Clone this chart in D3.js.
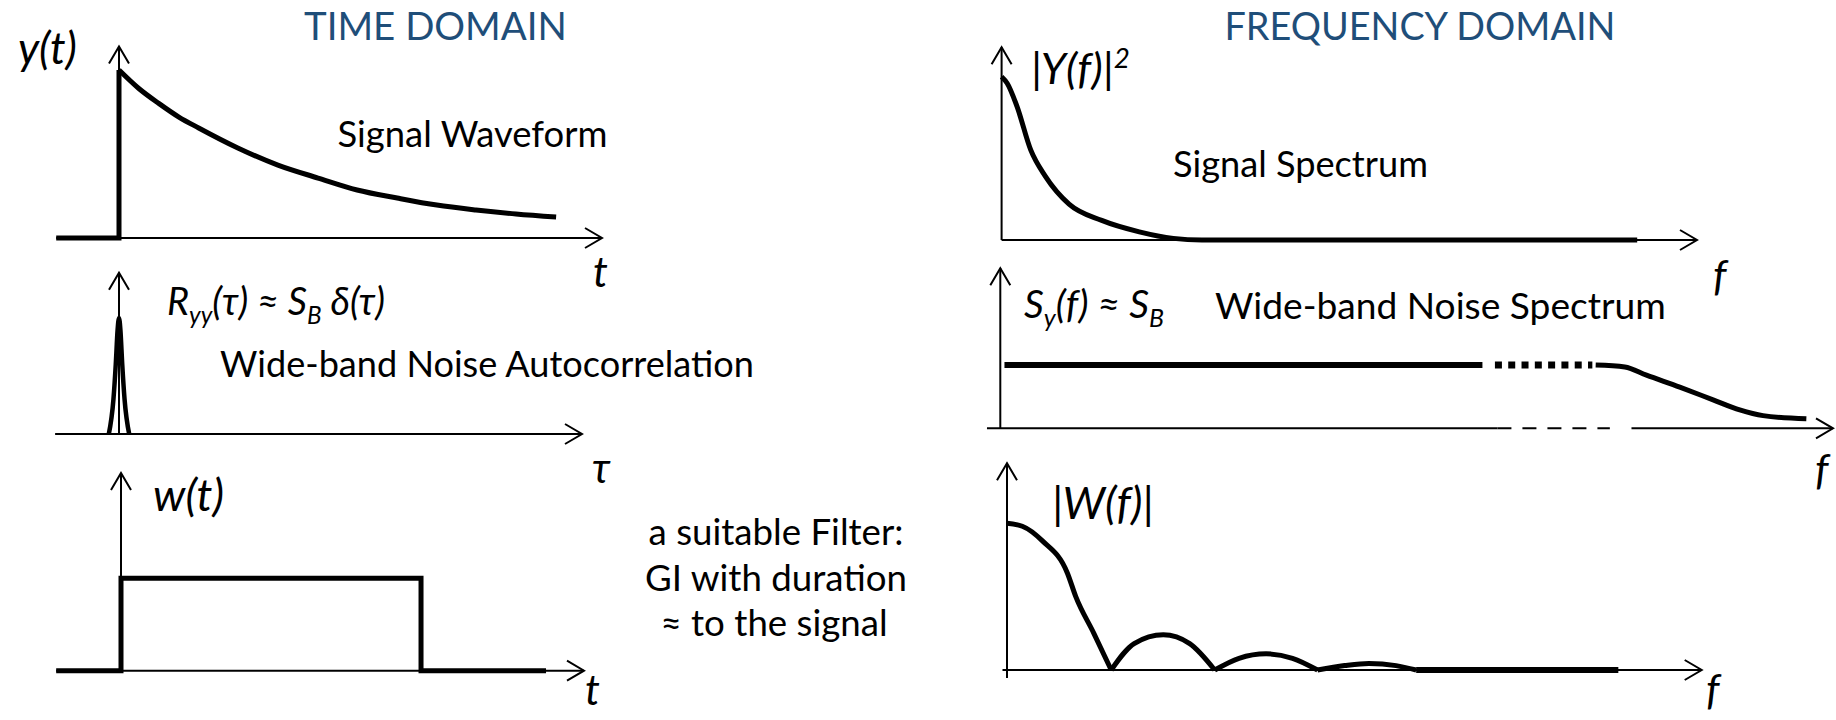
<!DOCTYPE html>
<html>
<head>
<meta charset="utf-8">
<script src="https://cdn.jsdelivr.net/npm/d3@7"></script>
<style>
  body { margin: 0; background: #fff; }
  text { font-family: Lato, "Open Sans", sans-serif; fill: #000; }
  .title { fill: #1f4e79; }
</style>
</head>
<body>
<script>
// signal waveform y(t)
const stepT = [-1.3, 0, 0]
const stepY = [0, 0, 1]
const signalT = [0, 0.41, 0.83, 1.24, 1.65, 2.46, 3.29, 4.12, 4.93, 5.76, 6.58, 7.39, 8.22, 9.05]
const signalY = [1, 0.89, 0.8, 0.72, 0.655, 0.536, 0.434, 0.357, 0.286, 0.238, 0.196, 0.167, 0.143, 0.125]

// noise autocorrelation (narrow peak)
const autoTau = [-0.22, -0.12, -0.07, -0.03, 0, 0.03, 0.07, 0.12, 0.22]
const autoY = [0, 0.3, 0.6, 0.9, 1, 0.9, 0.6, 0.3, 0]

// filter w(t), rectangular gate
const gateT = [-1.4, 0, 0, 6.48, 6.48, 9.18]
const gateY = [0, 0, 1, 1, 0, 0]

// signal spectrum |Y(f)|^2
const specF = [0, 0.08, 0.22, 0.42, 0.63, 0.97, 1.44, 1.98, 2.47, 2.88, 9.14]
const specY = [1, 0.96, 0.82, 0.55, 0.39, 0.22, 0.12, 0.05, 0.01, 0, 0]

// wide-band noise spectrum
const noiseFlatF = [0.05, 5.79]
const noiseDotF = [5.94, 7.11]
const noiseRollF = [7.15, 7.5, 7.76, 8.16, 8.56, 8.88, 9.16, 9.68]
const noiseRollY = [1, 0.97, 0.84, 0.65, 0.45, 0.29, 0.2, 0.15]
const noiseAxisSolid = [[-0.16, 5.97], [7.58, 10]]
const noiseAxisDash = [5.97, 7.32]

// filter magnitude |W(f)|
const gateF = [0, 0.22, 0.51, 0.87, 0.99, 1.25, 1.5, 1.83, 2.25, 2.63, 2.99, 3.34, 3.73, 4.11, 4.47, 4.86, 5.21, 5.6, 5.89, 8.8]
const gateMag = [1, 0.98, 0.88, 0.66, 0.5, 0.25, 0, 0.18, 0.24, 0.18, 0, 0.08, 0.11, 0.08, 0, 0.03, 0.045, 0.03, 0, 0]

const filterText = ['a suitable Filter:', 'GI with duration', '≈ to the signal']

const svg = d3.select('body').append('svg')
  .attr('width', 1836)
  .attr('height', 720)

svg.append('defs').append('marker')
  .attr('id', 'arr')
  .attr('markerUnits', 'userSpaceOnUse')
  .attr('viewBox', '-22 -14 26 28')
  .attr('markerWidth', 26)
  .attr('markerHeight', 28)
  .attr('refX', 0)
  .attr('refY', 0)
  .attr('orient', 'auto')
  .append('path')
  .attr('d', 'M-17,-10L0,0L-17,10')
  .attr('fill', 'none')
  .attr('stroke', '#000')
  .attr('stroke-width', 2)

function panel(ox, tip, ay, top) {
  return {
    x: d3.scaleLinear().domain([0, 10]).range([ox, tip]),
    y: d3.scaleLinear().domain([0, 1]).range([ay, top])
  }
}

const p1 = panel(119, 602, 238, 70)
const p2 = panel(119, 582, 434, 318)
const p3 = panel(121, 584, 670.7, 578.3)
const p4 = panel(1001.6, 1697, 240, 76.7)
const p5 = panel(1000.3, 1833, 428.3, 365)
const p6 = panel(1007, 1701.7, 670, 523.3)

function seg(p, a, b, arrow, dash) {
  svg.append('line')
    .attr('x1', p.x(a[0])).attr('y1', p.y(a[1]))
    .attr('x2', p.x(b[0])).attr('y2', p.y(b[1]))
    .attr('stroke', '#000')
    .attr('stroke-width', 2)
    .attr('stroke-dasharray', dash || null)
    .attr('marker-end', arrow ? 'url(#arr)' : null)
}

function axes(p, xFrom, yTop, yFrom) {
  seg(p, [xFrom, 0], [10, 0], true)
  seg(p, [0, yFrom || 0], [0, yTop], true)
}

function curve(p, xs, ys, width, c) {
  const line = d3.line()
    .x(d => p.x(d[0]))
    .y(d => p.y(d[1]))
    .curve(c || d3.curveLinear)
  return svg.append('path')
    .attr('d', line(d3.zip(xs, ys)))
    .attr('fill', 'none')
    .attr('stroke', '#000')
    .attr('stroke-width', width)
    .attr('stroke-linejoin', 'miter')
}

axes(p1, -1.3, 1.14)
axes(p2, -1.38, 1.39)
axes(p3, -1.4, 2.14)
axes(p4, 0, 1.18)
seg(p5, [0, 0], [0, 2.53], true)
noiseAxisSolid.forEach((s, i) => seg(p5, [s[0], 0], [s[1], 0], i === 1))
seg(p5, [noiseAxisDash[0], 0], [noiseAxisDash[1], 0], false, '14,11')
axes(p6, -0.065, 1.41, -0.055)

curve(p1, stepT, stepY, 5)
curve(p1, signalT, signalY, 5, d3.curveMonotoneX)

curve(p2, autoTau, autoY, 4.5, d3.curveMonotoneX)

curve(p3, gateT, gateY, 5)

curve(p4, specF, specY, 5, d3.curveMonotoneX)

curve(p5, noiseFlatF, noiseFlatF.map(() => 1), 6)
curve(p5, noiseDotF, noiseDotF.map(() => 1), 7).attr('stroke-dasharray', '7,6.3')
curve(p5, noiseRollF, noiseRollY, 5, d3.curveMonotoneX)

// split |W(f)| into lobes at the zeros so the cusps stay sharp
let lobe = [[gateF[0], gateMag[0]]]
for (let i = 1; i < gateF.length; i++) {
  lobe.push([gateF[i], gateMag[i]])
  if (gateMag[i] === 0 && i < gateF.length - 1) {
    const flat = lobe.every(d => d[1] === 0)
    curve(p6, lobe.map(d => d[0]), lobe.map(d => d[1]), flat ? 6 : 5, d3.curveMonotoneX)
    lobe = [[gateF[i], gateMag[i]]]
  }
}
curve(p6, lobe.map(d => d[0]), lobe.map(d => d[1]), 6)

function label(x, yb, parts, opt) {
  const t = svg.append('text')
    .attr('font-size', 100)
    .attr('font-style', opt.italic ? 'italic' : 'normal')
    .attr('class', opt.cls || null)
    .attr('text-anchor', opt.anchor || 'start')
  let shift = 0
  parts.forEach(p => {
    const s = t.append('tspan').text(p.t)
    const want = p.sub ? 24 : p.sup ? -38 : 0
    if (want !== shift) { s.attr('dy', want - shift); shift = want }
    if (p.sub || p.sup) s.attr('font-size', 64)
  })
  const k = opt.width ? opt.width / t.node().getBBox().width : opt.size / 100
  t.attr('transform', `translate(${x},${yb}) scale(${k})`)
  return k
}

label(304, 40, [{t: 'TIME DOMAIN'}], {width: 263, cls: 'title'})
label(1224.5, 40, [{t: 'FREQUENCY DOMAIN'}], {width: 391, cls: 'title'})

label(18, 64, [{t: 'y(t)'}], {width: 59, italic: true})
label(337.5, 147, [{t: 'Signal Waveform'}], {width: 270})
label(593, 287, [{t: 't'}], {size: 42, italic: true})

label(167, 315, [{t: 'R'}, {t: 'yy', sub: true}, {t: '(τ) ≈ S'}, {t: 'B', sub: true}, {t: ' δ(τ)'}], {width: 218, italic: true})
label(220, 377, [{t: 'Wide-band Noise Autocorrelation'}], {width: 534})
label(592, 483, [{t: 'τ'}], {size: 42, italic: true})

label(153, 511, [{t: 'w(t)'}], {width: 71, italic: true})
label(585, 705, [{t: 't'}], {size: 42, italic: true})

const k = label(776, 545, [{t: filterText[0]}], {width: 255, anchor: 'middle'})
label(776, 591, [{t: filterText[1]}], {size: k * 100, anchor: 'middle'})
label(774, 636, [{t: filterText[2]}], {size: k * 100, anchor: 'middle'})

label(1031, 84, [{t: '|Y(f)|'}, {t: '2', sup: true}], {width: 99, italic: true})
label(1173, 177, [{t: 'Signal Spectrum'}], {width: 255})
label(1713, 291, [{t: 'f'}], {size: 42, italic: true})

label(1024, 318, [{t: 'S'}, {t: 'y', sub: true}, {t: '(f) ≈ S'}, {t: 'B', sub: true}], {width: 140, italic: true})
label(1215, 319, [{t: 'Wide-band Noise Spectrum'}], {width: 451})
label(1815, 485, [{t: 'f'}], {size: 42, italic: true})

label(1052, 519, [{t: '|W(f)|'}], {width: 102, italic: true})
label(1706, 705, [{t: 'f'}], {size: 42, italic: true})
</script>
</body>
</html>
